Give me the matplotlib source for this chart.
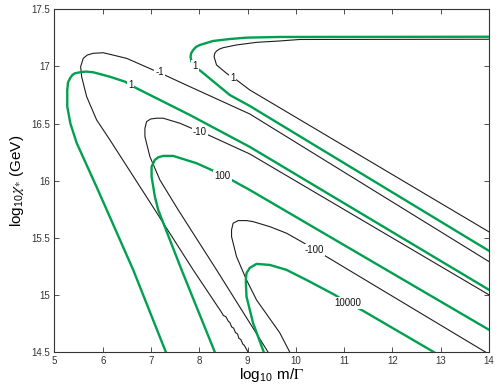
import matplotlib
matplotlib.use("Agg")
import matplotlib.pyplot as plt

plt.rcParams['font.family'] = ['Liberation Sans', 'DejaVu Sans']
plt.rcParams['mathtext.fontset'] = 'stix'

GREEN = '#00a04f'
BLACK = '#1e1e1e'

# ---- contour curves (x = log10 m/Gamma, y = log10 chi*) ----
g1_outer_x = [7.307, 6.630, 5.900, 5.46, 5.33, 5.265, 5.265, 5.28, 5.321, 5.37, 5.424, 5.528, 5.65, 5.803, 6.148, 6.459, 6.577, 6.701, 7.804, 9.045, 14.0]
g1_outer_y = [14.5, 15.220, 15.919, 16.33, 16.50, 16.648, 16.794, 16.86, 16.896, 16.925, 16.940, 16.949, 16.955, 16.949, 16.910, 16.867, 16.838, 16.809, 16.575, 16.296, 15.045]

bm1_x = [9.010, 8.93, 8.90, 8.86, 8.82, 8.79, 8.75, 8.71, 8.67, 8.63, 8.60, 8.55, 8.50, 8.457, 7.872, 7.079, 6.148, 5.873, 5.666, 5.563, 5.542, 5.596, 5.68, 5.803, 6.010, 6.494, 7.044, 7.183, 7.322, 7.804, 9.045, 14.0]
bm1_y = [14.5, 14.56, 14.57, 14.61, 14.62, 14.66, 14.67, 14.71, 14.72, 14.76, 14.77, 14.81, 14.82, 14.85, 15.220, 15.745, 16.357, 16.532, 16.736, 16.910, 16.998, 17.071, 17.10, 17.115, 17.120, 17.071, 16.969, 16.949, 16.917, 16.823, 16.584, 15.292]

bm10_x = [9.424, 8.356, 7.562, 7.183, 6.976, 6.873, 6.873, 6.908, 6.99, 7.115, 7.251, 7.597, 7.839, 8.011, 8.182, 9.045, 14.0]
bm10_y = [14.5, 15.220, 15.745, 16.007, 16.211, 16.386, 16.459, 16.517, 16.54, 16.547, 16.547, 16.503, 16.459, 16.429, 16.401, 16.234, 15.001]

g100_x = [8.321, 7.632, 7.148, 7.079, 7.011, 7.011, 7.079, 7.15, 7.251, 7.458, 7.942, 8.253, 8.480, 8.666, 9.045, 14.0]
g100_y = [14.5, 15.220, 15.745, 15.861, 16.036, 16.123, 16.182, 16.205, 16.217, 16.217, 16.153, 16.094, 16.045, 16.007, 15.919, 14.695]

bm100_x = [9.873, 9.666, 9.184, 8.977, 8.770, 8.667, 8.667, 8.700, 8.803, 8.977, 9.113, 9.459, 9.804, 10.148, 10.390, 10.632, 11.321, 13.928]
bm100_y = [14.5, 14.669, 14.957, 15.132, 15.336, 15.511, 15.570, 15.628, 15.651, 15.651, 15.642, 15.598, 15.541, 15.459, 15.395, 15.336, 15.161, 14.5]

g10000_x = [9.335, 9.113, 9.045, 8.977, 8.962, 8.977, 9.045, 9.184, 9.459, 9.804, 10.218, 10.804, 11.073, 11.356, 12.858]
g10000_y = [14.5, 14.754, 14.870, 14.986, 15.132, 15.191, 15.237, 15.272, 15.263, 15.220, 15.132, 15.001, 14.931, 14.870, 14.5]

g1_upper_x = [14.0, 9.045, 8.631, 8.046, 7.907, 7.839, 7.818, 7.83, 7.872, 7.93, 8.011, 8.286, 8.631, 8.977, 9.666, 14.0]
g1_upper_y = [15.386, 16.654, 16.750, 16.954, 16.998, 17.042, 17.085, 17.115, 17.144, 17.17, 17.188, 17.223, 17.240, 17.252, 17.258, 17.260]

b1_upper_x = [14.0, 9.045, 8.770, 8.687, 8.563, 8.356, 8.306, 8.32, 8.356, 8.42, 8.493, 8.770, 9.184, 9.666, 10.080, 14.0]
b1_upper_y = [15.552, 16.794, 16.882, 16.902, 16.940, 17.013, 17.085, 17.115, 17.135, 17.153, 17.164, 17.188, 17.211, 17.223, 17.236, 17.238]

# contour labels: text, x, y
label_text = ['1', '-1', '1', '1', '-10', '100', '-100', '10000']
label_x = [6.58, 7.18, 7.91, 8.69, 8.01, 8.48, 10.39, 11.07]
label_y = [16.84, 16.95, 17.00, 16.90, 16.43, 16.045, 15.395, 14.93]

x_ticks = [5, 6, 7, 8, 9, 10, 11, 12, 13, 14]
y_ticks = [14.5, 15, 15.5, 16, 16.5, 17, 17.5]
y_ticklabels = ['14.5', '15', '15.5', '16', '16.5', '17', '17.5']

fig = plt.figure(figsize=(4.98, 3.88), dpi=100)
ax = fig.add_axes([0.1094, 0.0925, 0.8726, 0.8835])

black_curves = [(bm1_x, bm1_y), (bm10_x, bm10_y), (bm100_x, bm100_y), (b1_upper_x, b1_upper_y)]
green_curves = [(g1_outer_x, g1_outer_y), (g100_x, g100_y), (g10000_x, g10000_y), (g1_upper_x, g1_upper_y)]
for cx, cy in black_curves:
    ax.plot(cx, cy, color=BLACK, lw=0.8, solid_joinstyle='round', zorder=2)
for cx, cy in green_curves:
    ax.plot(cx, cy, color=GREEN, lw=1.7, solid_joinstyle='round', zorder=3)

for t, lx, ly in zip(label_text, label_x, label_y):
    ax.text(lx, ly, t, fontsize=7, ha='center', va='center', color='#111111', zorder=5,
            bbox=dict(boxstyle='square,pad=0.1', fc='white', ec='none'))

ax.set_xlim(5, 14)
ax.set_ylim(14.5, 17.5)
ax.set_xticks(x_ticks)
ax.set_xticklabels([str(v) for v in x_ticks])
ax.set_yticks(y_ticks)
ax.set_yticklabels(y_ticklabels)
ax.tick_params(direction='in', length=3.5, width=0.6, labelsize=7, colors='#333333',
               top=True, right=True, pad=3)
for s in ax.spines.values():
    s.set_linewidth(0.8)
    s.set_color('#333333')

ax.set_xlabel(r'log$_{\mathregular{10}}$ m/$\Gamma$', fontsize=11, labelpad=0)
ax.set_ylabel(r'log$_{\mathregular{10}}\chi_{*}$ (GeV)', fontsize=11, labelpad=4)

fig.savefig('out.png', dpi=100)
